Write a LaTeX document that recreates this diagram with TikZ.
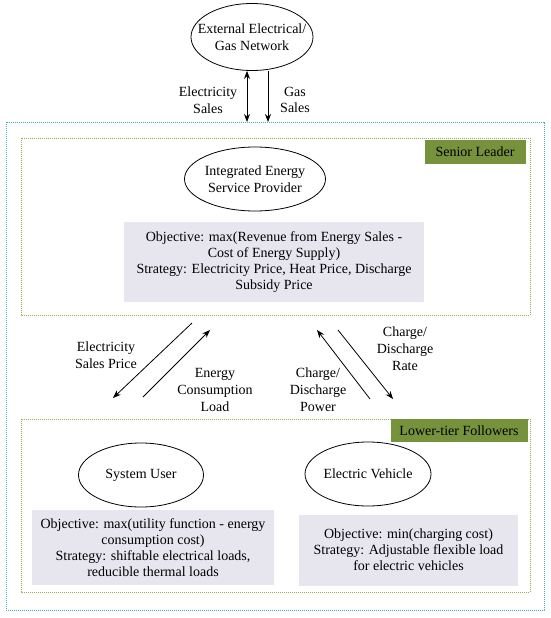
\documentclass[tikz,border=0pt]{standalone}
\usepackage{fontspec}
\setmainfont{Liberation Serif}
\usetikzlibrary{shapes.geometric,arrows.meta}
\definecolor{outerblue}{HTML}{4BACC6}
\definecolor{tiergreen}{HTML}{93B04E}
\definecolor{labelgreen}{HTML}{76923C}
\definecolor{boxgray}{HTML}{E7E6EE}
\begin{document}
\begin{tikzpicture}[x=1pt,y=-1pt,
  txt/.style={font=\fontsize{14}{16.8}\selectfont, align=center, inner sep=0pt},
  boxtxt/.style={font=\fontsize{14}{16}\selectfont, align=center, inner sep=0pt},
  ell/.style={draw, ellipse, line width=0.8pt, inner sep=0pt},
  graybox/.style={boxtxt, fill=boxgray},
  tagbox/.style={txt, fill=labelgreen},
  outerframe/.style={draw=outerblue, line width=1pt, dash pattern=on 1.3pt off 0.7pt},
  tierframe/.style={draw=tiergreen, line width=1pt, dash pattern=on 1pt off 1pt},
  arr/.style={line width=0.8pt, -{Stealth[length=8pt,width=6pt]}},
  dbl/.style={line width=0.8pt, {Stealth[length=8pt,width=6pt]}-{Stealth[length=8pt,width=6pt]}},
]
\useasboundingbox (0,0) rectangle (550,618);

% frames
\draw[outerframe] (6,122) rectangle (544,610);
\draw[tierframe] (21,138) rectangle (530,315);
\draw[tierframe] (21,419) rectangle (530,592);

% tier tags
\node[tagbox, minimum width=101pt, minimum height=24pt] (senior) at (475,152) {Senior Leader};
\node[tagbox, minimum width=137pt, minimum height=23pt] (lower) at (459,430.5) {Lower-tier Followers};

% top external network
\node[ell, minimum width=122pt, minimum height=67pt] (ext) at (252,37) {};
\node[txt] (extt) at (ext.center) {External Electrical/\\Gas Network};

\coordinate (e1) at (247,122);
\coordinate (g1) at (268,122);
\draw[dbl] (e1 |- ext.south) -- (e1);
\draw[arr] (g1 |- ext.south) -- (g1);
\node[txt] (elsales) at (208,100) {Electricity\\Sales};
\node[txt] (gassales) at (295,100) {Gas\\Sales};

% senior leader
\node[ell, minimum width=141pt, minimum height=64pt] (iesp) at (255,179) {};
\node[txt] (iespt) at (iesp.center) {Integrated Energy\\Service Provider};
\node[graybox, minimum width=300pt, minimum height=80pt] (iespobj) at (274,262)
  {Objective: max(Revenue from Energy Sales -\\Cost of Energy Supply)\\Strategy: Electricity Price, Heat Price, Discharge\\Subsidy Price};

% middle arrows
\coordinate (a1s) at (192,323);
\coordinate (a1e) at (113,398);
\coordinate (a2s) at (143,397);
\coordinate (a2e) at (210,330);
\coordinate (a3s) at (370,399);
\coordinate (a3e) at (317,330);
\coordinate (a4s) at (338,330);
\coordinate (a4e) at (393,399);
\draw[arr] (a1s) -- (a1e);
\draw[arr] (a2s) -- (a2e);
\draw[arr] (a3s) -- (a3e);
\draw[arr] (a4s) -- (a4e);
\node[txt] (l1) at (106,355) {Electricity\\Sales Price};
\node[txt] (l2) at (215,390) {Energy\\Consumption\\Load};
\node[txt] (l3) at (318,390) {Charge/\\Discharge\\Power};
\node[txt] (l4) at (405,349) {Charge/\\Discharge\\Rate};

% lower followers
\node[ell, minimum width=125pt, minimum height=64pt] (user) at (141,475) {};
\node[txt] (usert) at (user.center) {System User};
\node[ell, minimum width=126pt, minimum height=64pt] (ev) at (368,474) {};
\node[txt] (evt) at (ev.center) {Electric Vehicle};

\node[graybox, minimum width=242pt, minimum height=75pt] (userobj) at (153,547.5)
  {Objective: max(utility function - energy\\consumption cost)\\Strategy: shiftable electrical loads,\\reducible thermal loads};
\node[graybox, minimum width=219pt, minimum height=71pt] (evobj) at (408.5,550)
  {Objective: min(charging cost)\\Strategy: Adjustable flexible load\\for electric vehicles};
\end{tikzpicture}
\end{document}
